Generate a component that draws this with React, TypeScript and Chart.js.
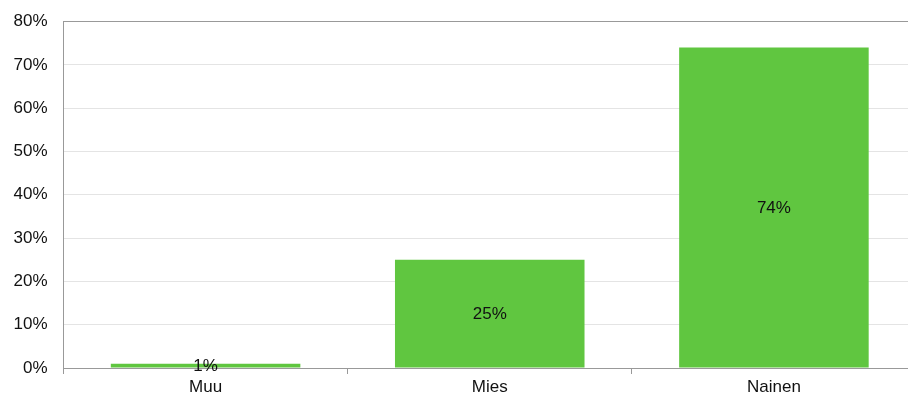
import React, { useEffect, useRef } from "react";
import { Chart, registerables } from "chart.js";

Chart.register(...registerables);

const categories = ["Muu", "Mies", "Nainen"];
const values = [1, 25, 74];
const yTicks = [0, 10, 20, 30, 40, 50, 60, 70, 80];

const FONT = "'Liberation Sans', Arial, Helvetica, sans-serif";

const valueLabelPlugin = {
  id: "valueLabels",
  afterDatasetsDraw(chart: any) {
    const ctx = chart.ctx;
    const meta = chart.getDatasetMeta(0);
    ctx.save();
    ctx.font = `17px ${FONT}`;
    ctx.fillStyle = "#111";
    ctx.textAlign = "center";
    ctx.textBaseline = "middle";
    meta.data.forEach((el: any, i: number) => {
      const { x, y, base } = el.getProps(["x", "y", "base"], true);
      ctx.fillText(values[i] + "%", x, (y + base) / 2 + 1);
    });
    ctx.restore();
  },
};

export default function App() {
  const ref = useRef<HTMLCanvasElement>(null);
  useEffect(() => {
    document.body.style.margin = "0";
    const chart = new Chart(ref.current!, {
      type: "bar",
      data: {
        labels: categories,
        datasets: [
          {
            data: values,
            backgroundColor: "#60C640",
            borderWidth: 0,
            categoryPercentage: 1,
            barPercentage: 0.667,
          },
        ],
      },
      options: {
        responsive: false,
        animation: false,
        layout: { padding: { top: 21.5, right: 4, left: 0, bottom: 0 } },
        plugins: { legend: { display: false }, tooltip: { enabled: false } },
        scales: {
          x: {
            offset: true,
            grid: {
              offset: true,
              drawOnChartArea: false,
              drawTicks: true,
              tickLength: 6,
              color: "#999",
            },
            border: { color: "#999", width: 1 },
            ticks: {
              color: "#111",
              font: { family: FONT, size: 17 },
              padding: 3,
            },
            afterFit(scale: any) {
              scale.height = 28;
              scale.paddingLeft = 0;
              scale.paddingRight = 0;
            },
          },
          y: {
            min: 0,
            max: 80,
            afterBuildTicks(scale: any) {
              scale.ticks = yTicks.map((v) => ({ value: v }));
            },
            grid: {
              drawTicks: false,
              color: (c: any) => (c.tick && c.tick.value === 80 ? "#999" : "#e4e4e4"),
              lineWidth: 1,
            },
            border: { color: "#999", width: 1 },
            ticks: {
              color: "#111",
              font: { family: FONT, size: 17 },
              padding: 16,
              callback: (v: any) => v + "%",
            },
            afterFit(scale: any) {
              scale.width = 63.5;
              scale.paddingTop = 0;
              scale.paddingBottom = 0;
            },
          },
        },
      },
      plugins: [valueLabelPlugin],
    });
    return () => chart.destroy();
  }, []);
  return (
    <div style={{ position: "absolute", left: 0, top: 0, width: 908, height: 396, overflow: "hidden", background: "#fff" }}>
      <canvas ref={ref} width={920} height={396} style={{ display: "block" }} />
    </div>
  );
}
